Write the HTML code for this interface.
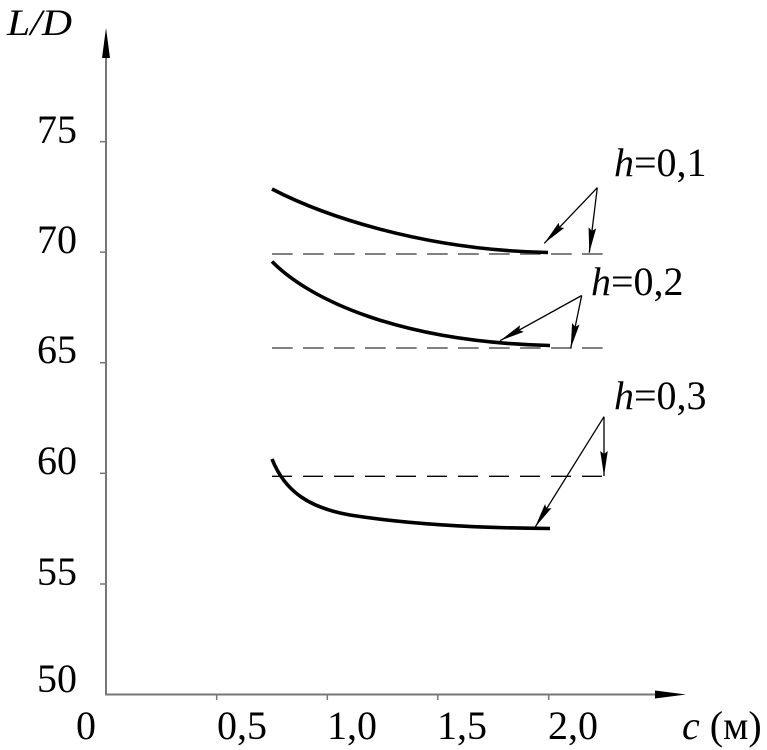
<!DOCTYPE html>
<html>
<head>
<meta charset="utf-8">
<style>
  html, body { margin: 0; padding: 0; background: #fff; }
  svg { display: block; }
  svg text, svg tspan { font-family: "Liberation Serif", "Times New Roman", Times, serif !important; fill: #000; }
</style>
</head>
<body>
<svg width="767" height="750" viewBox="0 0 767 750" xmlns="http://www.w3.org/2000/svg" font-family="Liberation Serif, Times New Roman, serif">
  <defs>
    <marker id="ah" markerWidth="26" markerHeight="10" refX="25" refY="5" orient="auto" markerUnits="userSpaceOnUse">
      <path d="M0,1.2 L25,5 L0,8.8 L3,5 Z" fill="#000"/>
    </marker>
  </defs>
  <rect width="767" height="750" fill="#fff"/>

  <!-- Y axis -->
  <line x1="106" y1="694.5" x2="106" y2="50" stroke="#777" stroke-width="2"/>
  <path d="M106,28 L102,58 L110,58 Z" fill="#000"/>
  <!-- X axis -->
  <line x1="105" y1="694.5" x2="662" y2="694.5" stroke="#777" stroke-width="2"/>
  <path d="M686,694.5 L655,690.5 L655,698.5 Z" fill="#000"/>

  <!-- Y ticks -->
  <g stroke="#777" stroke-width="1.5">
    <line x1="100" y1="141.7" x2="106" y2="141.7"/>
    <line x1="100" y1="252.2" x2="106" y2="252.2"/>
    <line x1="100" y1="362.7" x2="106" y2="362.7"/>
    <line x1="100" y1="473.3" x2="106" y2="473.3"/>
    <line x1="100" y1="584" x2="106" y2="584"/>
  </g>
  <!-- X ticks -->
  <g stroke="#777" stroke-width="1.5">
    <line x1="216.7" y1="694" x2="216.7" y2="700"/>
    <line x1="327.3" y1="694" x2="327.3" y2="700"/>
    <line x1="437.8" y1="694" x2="437.8" y2="700"/>
    <line x1="548.7" y1="694" x2="548.7" y2="700"/>
  </g>

  <!-- Y tick labels -->
  <g font-size="40" text-anchor="end" font-family="Liberation Serif, serif">
    <text x="77" y="143">75</text>
    <text x="77" y="253">70</text>
    <text x="77" y="363">65</text>
    <text x="77" y="474">60</text>
    <text x="77" y="585">55</text>
    <text x="77" y="692">50</text>
  </g>
  <!-- X tick labels -->
  <g font-size="40" font-family="Liberation Serif, serif">
    <text x="86" y="739" text-anchor="middle">0</text>
    <text x="217" y="739">0,5</text>
    <text x="327" y="739">1,0</text>
    <text x="437" y="739">1,5</text>
    <text x="548" y="739">2,0</text>
    <text x="682" y="739"><tspan font-style="italic">c</tspan> (м)</text>
  </g>
  <!-- Y axis title -->
  <text x="7" y="35" font-size="37" font-style="italic" font-family="Liberation Serif, serif" textLength="65" lengthAdjust="spacingAndGlyphs">L/D</text>

  <!-- Dashed reference lines -->
  <line x1="272" y1="254" x2="605" y2="254" stroke="#808080" stroke-width="2" stroke-dasharray="20.7 10.3"/>
  <line x1="272" y1="348" x2="605" y2="348" stroke="#808080" stroke-width="2" stroke-dasharray="20.7 10.3"/>
  <line x1="272" y1="476.3" x2="604" y2="476.3" stroke="#000" stroke-width="1.4" stroke-dasharray="20 11"/>

  <!-- Curves -->
  <g fill="none" stroke="#000" stroke-width="3.6" stroke-linecap="butt">
    <path d="M272,189 C320,214 420,250 548,252.5"/>
    <path d="M272,261.5 C310,300 400,342 550,345.5"/>
    <path d="M272,459 C285,492 310,508 350,515 C400,523 470,528 550,528.5"/>
  </g>

  <!-- Leader arrows -->
  <g stroke="#000" stroke-width="1.3" fill="none" marker-end="url(#ah)">
    <line x1="597.3" y1="187.7" x2="544.3" y2="243.3"/>
    <line x1="597.3" y1="187.7" x2="589.3" y2="252.7"/>
    <line x1="581.7" y1="295.5" x2="500" y2="340.7"/>
    <line x1="581.7" y1="295.5" x2="570.7" y2="348.3"/>
    <line x1="604" y1="416.7" x2="535" y2="527.3"/>
    <line x1="604" y1="416.7" x2="604" y2="476"/>
  </g>

  <!-- Labels -->
  <g font-size="40" font-family="Liberation Serif, serif">
    <text x="614" y="176"><tspan font-style="italic">h</tspan>=0,1</text>
    <text x="591" y="295"><tspan font-style="italic">h</tspan>=0,2</text>
    <text x="614" y="409"><tspan font-style="italic">h</tspan>=0,3</text>
  </g>
</svg>
</body>
</html>
